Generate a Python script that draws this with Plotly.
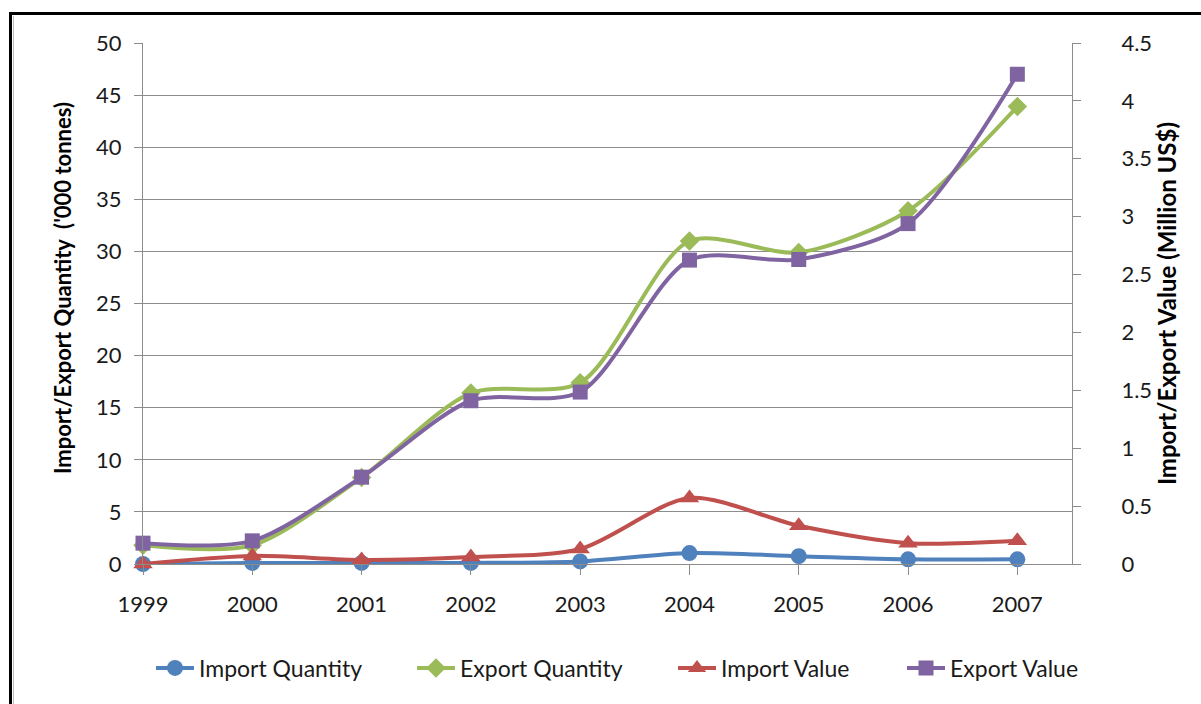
import plotly.graph_objects as go

# Annual trade series
years = [1999, 2000, 2001, 2002, 2003, 2004, 2005, 2006, 2007]
import_quantity = [0.0, 0.1, 0.1, 0.1, 0.25, 1.05, 0.75, 0.45, 0.45]      # '000 tonnes
export_quantity = [1.8, 1.8, 8.3, 16.4, 17.4, 31.0, 29.9, 33.9, 43.9]      # '000 tonnes
import_value = [0.0, 0.07, 0.035, 0.06, 0.13, 0.57, 0.33, 0.18, 0.2]       # million US$
export_value = [0.18, 0.2, 0.75, 1.41, 1.485, 2.625, 2.63, 2.94, 4.23]     # million US$

left_ticks = list(range(0, 51, 5))
right_ticks = [0, 0.5, 1, 1.5, 2, 2.5, 3, 3.5, 4, 4.5]
right_tick_text = ["0", "0.5", "1", "1.5", "2", "2.5", "3", "3.5", "4", "4.5"]

FONT = "Lato"
GRID = "#8c8c8c"
TXT = "#1a1a1a"

series = [
    ("Import Quantity", import_quantity, "y", "#4F81BD", "circle", 16, "legend"),
    ("Export Quantity", export_quantity, "y", "#9BBB59", "diamond", 15, "legend2"),
    ("Import Value", import_value, "y2", "#C0504D", "triangle-up", 17, "legend3"),
    ("Export Value", export_value, "y2", "#8064A2", "square", 15, "legend4"),
]

fig = go.Figure()
for name, vals, yax, color, symbol, size, leg in series:
    fig.add_trace(go.Scatter(
        x=years, y=vals, name=name, yaxis=yax, mode="lines+markers",
        line=dict(color=color, width=4, shape="spline", smoothing=0.8),
        marker=dict(symbol=symbol, size=size, color=color),
        cliponaxis=False, legend=leg, showlegend=True,
    ))

# pixel helpers for the frame, legend and title placement
PL, PR, PT, PB = 143, 1072, 43, 564
def px_x(p):
    return (p - PL) / (PR - PL)
def px_y(p):
    return (PB - p) / (PB - PT)

shapes = [
    dict(type="line", xref="paper", yref="paper", x0=px_x(9), x1=px_x(1205),
         y0=px_y(13.5), y1=px_y(13.5), line=dict(color="black", width=3)),
    dict(type="line", xref="paper", yref="paper", x0=px_x(10.5), x1=px_x(10.5),
         y0=px_y(12), y1=px_y(710), line=dict(color="black", width=3)),
    dict(type="line", xref="paper", yref="paper", x0=px_x(13.5), x1=px_x(13.5),
         y0=px_y(16), y1=px_y(710), line=dict(color="#bdbdbd", width=1)),
]

# left axis title, sitting slightly above the plot's vertical centre
left_title = dict(
    text="<b>Import/Export Quantity  ('000 tonnes)</b>", textangle=-90,
    xref="paper", yref="paper", x=px_x(62), y=px_y(288),
    xanchor="center", yanchor="middle", showarrow=False,
    font=dict(family=FONT, size=22, color="black"),
)

legend_common = dict(orientation="h", yanchor="middle", y=px_y(668), xanchor="left",
                     font=dict(family=FONT, size=23, color=TXT),
                     bgcolor="rgba(0,0,0,0)", itemwidth=38)

fig.update_layout(
    width=1201, height=704,
    margin=dict(l=PL, r=1201 - PR, t=PT, b=704 - PB, pad=0),
    paper_bgcolor="white", plot_bgcolor="white",
    font=dict(family=FONT, size=22, color=TXT),
    shapes=shapes,
    annotations=[left_title],
    showlegend=True,
    legend=dict(legend_common, x=px_x(151)),
    legend2=dict(legend_common, x=px_x(412)),
    legend3=dict(legend_common, x=px_x(673)),
    legend4=dict(legend_common, x=px_x(902)),
    xaxis=dict(
        range=[1999, 2007.5], tickvals=years, ticktext=[str(y) for y in years],
        showgrid=False, zeroline=False, showline=True, linecolor=GRID, linewidth=1,
        ticks="outside", ticklen=10, tickcolor=GRID,
        tickfont=dict(family=FONT, size=22, color=TXT), ticklabelstandoff=11,
    ),
    yaxis=dict(
        range=[0, 50], tickvals=left_ticks, showgrid=True, gridcolor=GRID, gridwidth=1,
        zeroline=False, showline=True, linecolor=GRID, linewidth=1,
        ticks="outside", ticklen=8, tickcolor=GRID,
        tickfont=dict(family=FONT, size=22, color=TXT), ticklabelstandoff=8,
    ),
    yaxis2=dict(
        range=[0, 4.5], tickvals=right_ticks, ticktext=right_tick_text,
        overlaying="y", side="right", showgrid=False, zeroline=False,
        showline=True, linecolor=GRID, linewidth=1,
        ticks="outside", ticklen=8, tickcolor=GRID,
        tickfont=dict(family=FONT, size=22, color=TXT), ticklabelstandoff=36,
        title=dict(text="Import/Export Value (Million US$)", standoff=2,
                   font=dict(family=FONT, size=24, color="black", weight="bold")),
    ),
)

fig.write_html("out.html")
